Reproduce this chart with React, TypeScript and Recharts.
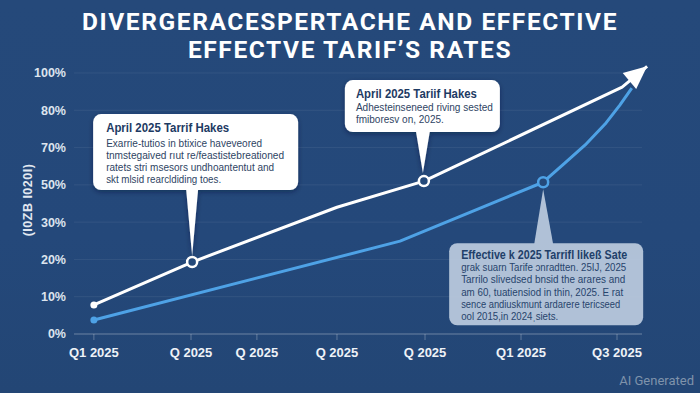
import React from 'react';
import { LineChart, Line, XAxis, YAxis, ReferenceLine, ReferenceDot } from 'recharts';

// ---------- data ----------
const yTickValues = [0, 10, 20, 30, 50, 70, 80, 100];
const xTickPositions = [3.5, 20.6, 32.2, 46.3, 61.8, 78.7, 95.6];
const xTickLabels = ['Q1 2025', 'Q 2025', 'Q 2025', 'Q 2025', 'Q 2025', 'Q1 2025', 'Q3 2025'];

const statutoryT = [3.5, 20.8, 46.3, 61.6, 96.5, 100.9];
const statutoryPct = [7.8, 19.3, 38.0, 52.0, 92.4, 103.6];
const effectiveT = [3.5, 57.4, 82.6, 86.4, 90.0, 93.5, 96.1, 98.2];
const effectivePct = [3.75, 24.9, 51.4, 61.7, 70.7, 76.3, 82.8, 91.9];

const titleLines = ['DIVERGERACESPERTACHE AND EFFECTIVE', 'EFFECTVE TARIF\u2019S RATES'];
const yAxisTitle = '(I0ZB I020I)';

const note1 = {
  title: 'April 2025 Tarrif Hakes',
  body: [
    'Exarrie-tutios in btixice haveveored',
    'tnmstegaived r\u0131ut re/feastistebreationed',
    'ratets stri msesors undhoantentut and',
    'skt mlsid rearcldiding toes.',
  ],
};
const note2 = {
  title: 'April 2025 Tariif Hakes',
  body: ['Adhesteinseneed riving sested', 'fmiboresv on, 2025.'],
};
const note3 = {
  title: 'Effective k 2025 Tarrifl like\u00df Sate',
  body: [
    'grak suarn Tarife \u0254nradtten. 25IJ, 2025',
    'Tarrilo slivedsed bnsid the arares and',
    'am 60, tuatiensiod in thin, 2025. E rat',
    'sence andiuskmunt ardarere tericseed',
    'ool 2015,in 2024\u02ccsiets.',
  ],
};

// ---------- helpers ----------
// the value axis is spaced by tick index (uneven tick values), so map a percent to its tick-index position
function pctToAxis(p: number): number {
  const v = yTickValues;
  for (let i = 1; i < v.length; i++) {
    if (p <= v[i] || i === v.length - 1) {
      return i - 1 + (p - v[i - 1]) / (v[i] - v[i - 1]);
    }
  }
  return 0;
}

const statutoryData = statutoryT.map((t, i) => ({ t, y: pctToAxis(statutoryPct[i]), pct: statutoryPct[i] }));
const effectiveData = effectiveT.map((t, i) => ({ t, y: pctToAxis(effectivePct[i]), pct: effectivePct[i] }));
const effectiveMarker = 2;

const BG = '#24497a';
const WHITE = '#ffffff';
const BLUE = '#4ea2e6';
const FONT = "'Liberation Sans', Arial, sans-serif";

const whiteDot = (props: any) => {
  const { cx, cy, index, points } = props;
  const key = `w-${index}`;
  if (cx == null || cy == null) return <g key={key} />;
  if (index === 0) return <circle key={key} cx={cx} cy={cy} r={3.5} fill={WHITE} />;
  if (index === 1 || index === 3)
    return <circle key={key} cx={cx} cy={cy} r={5} fill={BG} stroke={WHITE} strokeWidth={2.5} />;
  if (index === statutoryData.length - 1) {
    let dx = 25;
    let dy = -21;
    if (points && points[index - 1]) {
      dx = cx - points[index - 1].x;
      dy = cy - points[index - 1].y;
    }
    const len = Math.sqrt(dx * dx + dy * dy) || 1;
    const ux = dx / len;
    const uy = dy / len;
    const L = 23;
    const H = 10.5;
    const bx = cx - ux * L;
    const by = cy - uy * L;
    const px = -uy;
    const py = ux;
    const pts = `${cx},${cy} ${bx + px * H},${by + py * H} ${bx - px * H},${by - py * H}`;
    return <polygon key={key} points={pts} fill={WHITE} />;
  }
  return <g key={key} />;
};

const blueDot = (props: any) => {
  const { cx, cy, index } = props;
  const key = `b-${index}`;
  if (cx == null || cy == null) return <g key={key} />;
  if (index === 0) return <circle key={key} cx={cx} cy={cy} r={3.5} fill={BLUE} />;
  if (index === effectiveMarker)
    return <circle key={key} cx={cx} cy={cy} r={5} fill={BG} stroke={BLUE} strokeWidth={2.5} />;
  return <g key={key} />;
};

type CalloutSpec = {
  rect: [number, number, number, number];
  pointer: [number, number][];
  fill: string;
  opacity?: number;
  textDx: number;
  lineDy: number[];
  lineW: number[];
  titleSize: number;
  bodySize: number;
  titleColor: string;
  bodyColor: string;
  shadow?: boolean;
};

const Callout = ({ cx, cy, note, spec, id }: any) => {
  const s: CalloutSpec = spec;
  const lines = [note.title, ...note.body];
  const pts = s.pointer.map(([x, y]) => `${cx + x},${cy + y}`).join(' ');
  return (
    <g>
      {s.shadow && (
        <defs>
          <filter id={id} x="-20%" y="-20%" width="140%" height="150%">
            <feDropShadow dx="0" dy="2" stdDeviation="2.5" floodColor="#0b1d36" floodOpacity="0.45" />
          </filter>
        </defs>
      )}
      <g filter={s.shadow ? `url(#${id})` : undefined} opacity={s.opacity ?? 1}>
        <rect x={cx + s.rect[0]} y={cy + s.rect[1]} width={s.rect[2]} height={s.rect[3]} rx={8} ry={8} fill={s.fill} />
        <polygon points={pts} fill={s.fill} />
      </g>
      {lines.map((txt: string, i: number) => (
        <text
          key={i}
          x={cx + s.textDx}
          y={cy + s.lineDy[i]}
          dominantBaseline="central"
          fontFamily={FONT}
          fontSize={i === 0 ? s.titleSize : s.bodySize}
          fontWeight={i === 0 ? 700 : 400}
          fill={i === 0 ? s.titleColor : s.bodyColor}
          textLength={s.lineW[i]}
          lengthAdjust="spacingAndGlyphs"
        >
          {txt}
        </text>
      ))}
    </g>
  );
};

const spec1: CalloutSpec = {
  rect: [-99, -148, 205, 76],
  pointer: [[-6, -73], [6, -73], [0, -6]],
  fill: '#ffffff',
  textDx: -86,
  lineDy: [-134, -119, -107, -95, -83],
  lineW: [123, 156, 178, 168, 115],
  titleSize: 12.5,
  bodySize: 10.5,
  titleColor: '#1d3a63',
  bodyColor: '#2e4463',
  shadow: true,
};
const spec2: CalloutSpec = {
  rect: [-79, -101, 155, 52],
  pointer: [[-8, -50], [6, -50], [-1, -8]],
  fill: '#ffffff',
  textDx: -68,
  lineDy: [-87, -74, -62],
  lineW: [121, 137, 88],
  titleSize: 12.5,
  bodySize: 10.5,
  titleColor: '#1d3a63',
  bodyColor: '#2e4463',
  shadow: true,
};
const spec3: CalloutSpec = {
  rect: [-94, 61, 194, 82],
  pointer: [[-9, 62], [10, 62], [0, 7]],
  fill: '#b8c8dc',
  opacity: 0.95,
  textDx: -82,
  lineDy: [73, 85, 97, 110, 122, 134],
  lineW: [166, 165, 164, 162, 159, 97],
  titleSize: 12,
  bodySize: 10.5,
  titleColor: '#213f69',
  bodyColor: '#27446c',
};

const gridLevels = [1, 2, 3, 4, 5, 6, 7];

export default function App() {
  return (
    <div
      style={{
        position: 'absolute',
        left: 0,
        top: 0,
        width: 700,
        height: 393,
        overflow: 'hidden',
        background: `linear-gradient(180deg, #25497a 0%, #24487a 60%, #234675 100%)`,
      }}
    >
      <div
        style={{
          position: 'absolute',
          left: 0,
          top: 8,
          width: 700,
          textAlign: 'center',
          color: '#ffffff',
          fontFamily: 'Roboto, sans-serif',
          fontWeight: 700,
          fontSize: 24.5,
          lineHeight: '28px',
          letterSpacing: 1.6,
        }}
      >
        {titleLines.map((l, i) => (
          <div key={i}>{l}</div>
        ))}
      </div>
      <div
        style={{
          position: 'absolute',
          left: 28,
          top: 200,
          transform: 'translate(-50%, -50%) rotate(-90deg)',
          whiteSpace: 'nowrap',
          color: '#e2e8f1',
          fontFamily: FONT,
          fontWeight: 700,
          fontSize: 12.5,
          letterSpacing: 0.5,
        }}
      >
        {yAxisTitle}
      </div>
      <div
        style={{
          position: 'absolute',
          right: 6,
          top: 373,
          color: '#7f93ab',
          fontFamily: 'Roboto, sans-serif',
          fontSize: 13,
        }}
      >
        AI Generated
      </div>
      <div style={{ position: 'absolute', left: 0, top: 0 }}>
        <LineChart width={700} height={393} margin={{ top: 54.35, right: 29.6, bottom: 29, left: 14 }}>
          <XAxis
            dataKey="t"
            type="number"
            domain={[0, 105]}
            ticks={xTickPositions}
            tickFormatter={(v: number) => xTickLabels[xTickPositions.indexOf(v)] ?? ''}
            height={30}
            axisLine={false}
            tickLine={{ stroke: 'rgba(255,255,255,0.28)' }}
            tickMargin={8}
            tick={{ fill: '#eef2f7', fontSize: 13, fontWeight: 700, fontFamily: FONT }}
            allowDataOverflow
          />
          <YAxis
            type="number"
            domain={[0, 7.5]}
            ticks={[0, 1, 2, 3, 4, 5, 6, 7]}
            tickFormatter={(v: number) => `${yTickValues[v]}%`}
            width={60}
            axisLine={false}
            tickLine={false}
            tick={{ fill: '#dce4ee', fontSize: 12.5, fontWeight: 700, fontFamily: FONT }}
            allowDataOverflow
          />
          {gridLevels.map((g) => (
            <ReferenceLine
              key={g}
              segment={[{ x: 0, y: g }, { x: 100, y: g }]}
              stroke="rgba(255,255,255,0.07)"
              strokeWidth={1}
            />
          ))}
          <ReferenceLine segment={[{ x: 0, y: 0 }, { x: 100, y: 0 }]} stroke="rgba(255,255,255,0.22)" strokeWidth={1.5} />
          <Line
            data={effectiveData}
            dataKey="y"
            type="linear"
            stroke={BLUE}
            strokeWidth={3}
            strokeLinejoin="round"
            dot={blueDot}
            activeDot={false}
            isAnimationActive={false}
          />
          <Line
            data={statutoryData}
            dataKey="y"
            type="linear"
            stroke={WHITE}
            strokeWidth={3}
            strokeLinejoin="round"
            dot={whiteDot}
            activeDot={false}
            isAnimationActive={false}
          />
          <ReferenceDot
            x={statutoryData[1].t}
            y={statutoryData[1].y}
            r={0}
            shape={(p: any) => <Callout cx={p.cx} cy={p.cy} note={note1} spec={spec1} id="sh1" />}
          />
          <ReferenceDot
            x={statutoryData[3].t}
            y={statutoryData[3].y}
            r={0}
            shape={(p: any) => <Callout cx={p.cx} cy={p.cy} note={note2} spec={spec2} id="sh2" />}
          />
          <ReferenceDot
            x={effectiveData[effectiveMarker].t}
            y={effectiveData[effectiveMarker].y}
            r={0}
            shape={(p: any) => <Callout cx={p.cx} cy={p.cy} note={note3} spec={spec3} id="sh3" />}
          />
        </LineChart>
      </div>
    </div>
  );
}
